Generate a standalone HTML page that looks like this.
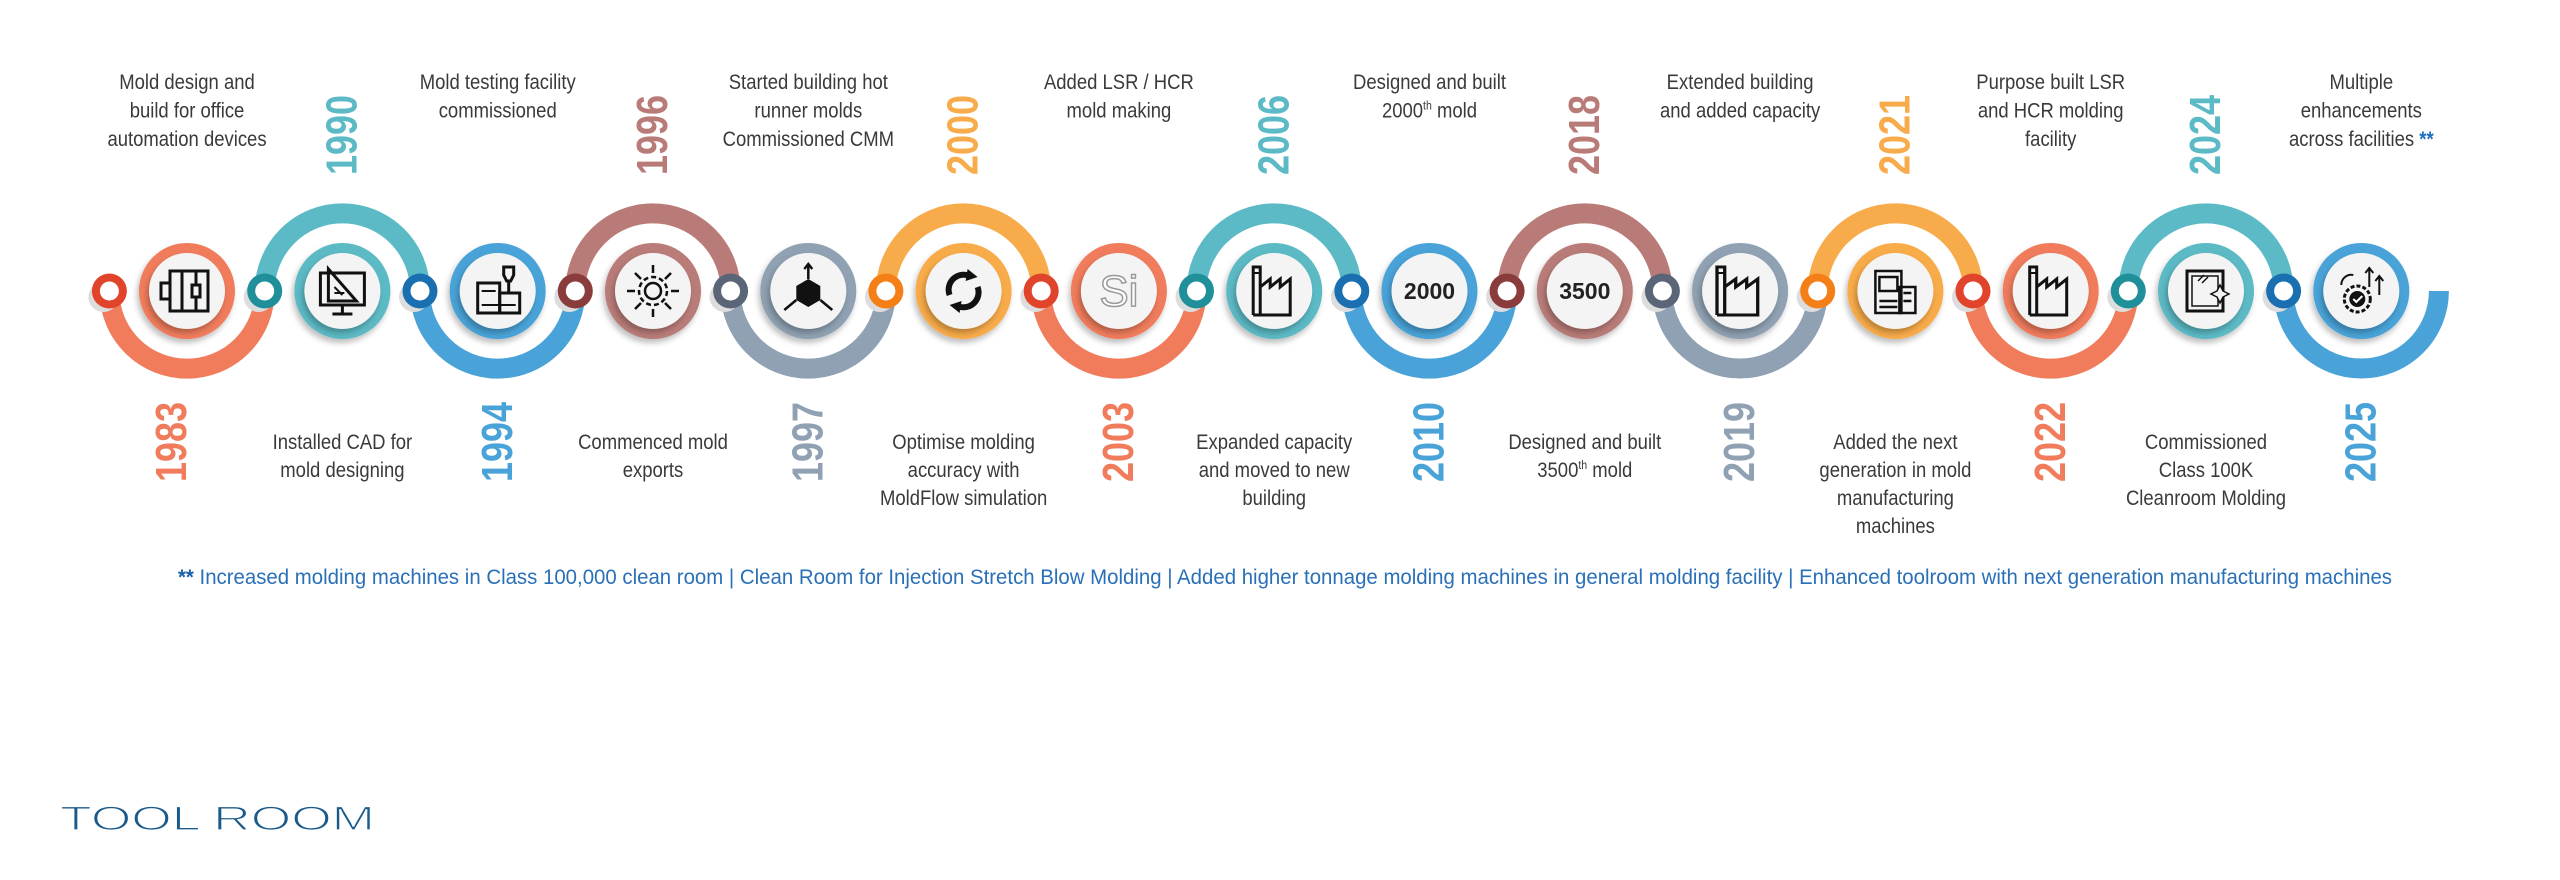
<!DOCTYPE html>
<html><head><meta charset="utf-8"><style>
html,body{margin:0;padding:0;background:#fff;}
svg{display:block;}
text{font-family:"Liberation Sans",Arial,sans-serif;}
.d{font-size:21px;fill:#3a3a3a;}
.y{font-size:36px;font-weight:bold;}
</style></head><body>
<svg width="2560" height="880" viewBox="0 0 2560 880" xmlns="http://www.w3.org/2000/svg">
<defs>
<filter id="sh" x="-30%" y="-30%" width="160%" height="160%"><feDropShadow dx="-2" dy="4" stdDeviation="3" flood-color="#000" flood-opacity="0.25"/></filter>
<g id="factory"><path d="M-21 24V-24h7v48M-14 24V-4l10-8v8l10-8v8l10-8v36H-21z" fill="none" stroke="#111" stroke-width="3" stroke-linejoin="miter"/><path d="M-21-18h7" stroke="#111" stroke-width="2"/></g>
</defs>
<rect width="2560" height="880" fill="#fff"/>

<g fill="none" stroke-width="20" stroke-linecap="butt">
<path d="M109.4 291A77.65 77.65 0 0 0 264.7 291" stroke="#f07c5c"/>
<path d="M264.7 291A77.65 77.65 0 0 1 420 291" stroke="#5bbac5"/>
<path d="M420 291A77.65 77.65 0 0 0 575.3 291" stroke="#4aa3d8"/>
<path d="M575.3 291A77.65 77.65 0 0 1 730.6 291" stroke="#b97b78"/>
<path d="M730.6 291A77.65 77.65 0 0 0 885.9 291" stroke="#8fa1b2"/>
<path d="M885.9 291A77.65 77.65 0 0 1 1041.2 291" stroke="#f8ab4a"/>
<path d="M1041.2 291A77.65 77.65 0 0 0 1196.5 291" stroke="#f07c5c"/>
<path d="M1196.5 291A77.65 77.65 0 0 1 1351.8 291" stroke="#5bbac5"/>
<path d="M1351.8 291A77.65 77.65 0 0 0 1507.1 291" stroke="#4aa3d8"/>
<path d="M1507.1 291A77.65 77.65 0 0 1 1662.4 291" stroke="#b97b78"/>
<path d="M1662.4 291A77.65 77.65 0 0 0 1817.7 291" stroke="#8fa1b2"/>
<path d="M1817.7 291A77.65 77.65 0 0 1 1973 291" stroke="#f8ab4a"/>
<path d="M1973 291A77.65 77.65 0 0 0 2128.3 291" stroke="#f07c5c"/>
<path d="M2128.3 291A77.65 77.65 0 0 1 2283.6 291" stroke="#5bbac5"/>
<path d="M2283.6 291A77.65 77.65 0 0 0 2438.9 291" stroke="#4aa3d8"/>
</g>

<g>
<g transform="translate(109.4,291)"><circle cx="-6" cy="6" r="15" fill="#ddd"/><circle r="17.5" fill="#e0452b"/><circle r="9.5" fill="#fff"/></g>
<g transform="translate(264.7,291)"><circle cx="-6" cy="6" r="15" fill="#ddd"/><circle r="17.5" fill="#1f8f99"/><circle r="9.5" fill="#fff"/></g>
<g transform="translate(420,291)"><circle cx="-6" cy="6" r="15" fill="#ddd"/><circle r="17.5" fill="#1a6fb0"/><circle r="9.5" fill="#fff"/></g>
<g transform="translate(575.3,291)"><circle cx="-6" cy="6" r="15" fill="#ddd"/><circle r="17.5" fill="#8a3b3b"/><circle r="9.5" fill="#fff"/></g>
<g transform="translate(730.6,291)"><circle cx="-6" cy="6" r="15" fill="#ddd"/><circle r="17.5" fill="#5a6677"/><circle r="9.5" fill="#fff"/></g>
<g transform="translate(885.9,291)"><circle cx="-6" cy="6" r="15" fill="#ddd"/><circle r="17.5" fill="#f57f17"/><circle r="9.5" fill="#fff"/></g>
<g transform="translate(1041.2,291)"><circle cx="-6" cy="6" r="15" fill="#ddd"/><circle r="17.5" fill="#e0452b"/><circle r="9.5" fill="#fff"/></g>
<g transform="translate(1196.5,291)"><circle cx="-6" cy="6" r="15" fill="#ddd"/><circle r="17.5" fill="#1f8f99"/><circle r="9.5" fill="#fff"/></g>
<g transform="translate(1351.8,291)"><circle cx="-6" cy="6" r="15" fill="#ddd"/><circle r="17.5" fill="#1a6fb0"/><circle r="9.5" fill="#fff"/></g>
<g transform="translate(1507.1,291)"><circle cx="-6" cy="6" r="15" fill="#ddd"/><circle r="17.5" fill="#8a3b3b"/><circle r="9.5" fill="#fff"/></g>
<g transform="translate(1662.4,291)"><circle cx="-6" cy="6" r="15" fill="#ddd"/><circle r="17.5" fill="#5a6677"/><circle r="9.5" fill="#fff"/></g>
<g transform="translate(1817.7,291)"><circle cx="-6" cy="6" r="15" fill="#ddd"/><circle r="17.5" fill="#f57f17"/><circle r="9.5" fill="#fff"/></g>
<g transform="translate(1973,291)"><circle cx="-6" cy="6" r="15" fill="#ddd"/><circle r="17.5" fill="#e0452b"/><circle r="9.5" fill="#fff"/></g>
<g transform="translate(2128.3,291)"><circle cx="-6" cy="6" r="15" fill="#ddd"/><circle r="17.5" fill="#1f8f99"/><circle r="9.5" fill="#fff"/></g>
<g transform="translate(2283.6,291)"><circle cx="-6" cy="6" r="15" fill="#ddd"/><circle r="17.5" fill="#1a6fb0"/><circle r="9.5" fill="#fff"/></g>
</g>

<g>
<g transform="translate(187,291)"><circle r="48" fill="#f07c5c" filter="url(#sh)"/><circle r="38" fill="#f4f4f4" filter="url(#sh)"/>
<g fill="none" stroke="#111" stroke-width="3"><rect x="-17" y="-20" width="38" height="40"/><rect x="-26" y="-8" width="9" height="16"/><path d="M-5-20v40M9-20v14M9 6v14M5-6h8v12h-8z"/></g></g>
<g transform="translate(342.4,291)"><circle r="48" fill="#5bbac5" filter="url(#sh)"/><circle r="38" fill="#f4f4f4" filter="url(#sh)"/>
<g fill="none" stroke="#111" stroke-width="3"><rect x="-22" y="-18" width="44" height="32"/><path d="M0 14v8M-10 23h20M-14-22L14 10H-14z"/><path d="M-8 2h10M-8-4l8 8" stroke-width="2"/></g></g>
<g transform="translate(497.7,291)"><circle r="48" fill="#4aa3d8" filter="url(#sh)"/><circle r="38" fill="#f4f4f4" filter="url(#sh)"/>
<g fill="none" stroke="#111" stroke-width="3"><rect x="-20" y="-8" width="22" height="30"/><rect x="2" y="2" width="20" height="20"/><path d="M6-24h10v8l-3 6h-4l-3-6z M11-10v12"/><path d="M-16 0h14M-16 14h34" stroke-width="2"/></g></g>
<g transform="translate(653,291)"><circle r="48" fill="#b97b78" filter="url(#sh)"/><circle r="38" fill="#f4f4f4" filter="url(#sh)"/>
<g fill="none" stroke="#111" stroke-width="2.5"><circle r="8"/><circle r="14" stroke-dasharray="5 3"/><path d="M0-26v8M0 18v8M-26 0h8M18 0h8M-18-18l6 6M12 12l6 6M18-18l-6 6M-12 12l-6 6"/></g></g>
<g transform="translate(808.3,291)"><circle r="48" fill="#8fa1b2" filter="url(#sh)"/><circle r="38" fill="#f4f4f4" filter="url(#sh)"/>
<path d="M0-12l12 7v14l-12 7-12-7v-14z" fill="#111"/><g stroke="#111" stroke-width="2.5" fill="none"><path d="M0-12v-14M-4-22l4-5 4 5M-12 9l-12 10M12 9l12 10"/></g></g>
<g transform="translate(963.6,291)"><circle r="48" fill="#f8ab4a" filter="url(#sh)"/><circle r="38" fill="#f4f4f4" filter="url(#sh)"/>
<g fill="none" stroke="#111" stroke-width="6"><path d="M-14 4A15 15 0 0 1 8-14"/><path d="M14-4A15 15 0 0 1-8 14"/></g><path d="M4-22l10 8-12 4z M-4 22l-10-8 12-4z" fill="#111"/></g>
<g transform="translate(1118.9,291)"><circle r="48" fill="#f07c5c" filter="url(#sh)"/><circle r="38" fill="#f4f4f4" filter="url(#sh)"/>
<text x="0" y="15" text-anchor="middle" font-size="44" fill="#fff" stroke="#999" stroke-width="1.5">Si</text></g>
<g transform="translate(1274.2,291)"><circle r="48" fill="#5bbac5" filter="url(#sh)"/><circle r="38" fill="#f4f4f4" filter="url(#sh)"/><use href="#factory"/></g>
<g transform="translate(1429.5,291)"><circle r="48" fill="#4aa3d8" filter="url(#sh)"/><circle r="38" fill="#f4f4f4" filter="url(#sh)"/>
<text x="0" y="8" text-anchor="middle" font-size="23" font-weight="bold" fill="#222">2000</text></g>
<g transform="translate(1584.8,291)"><circle r="48" fill="#b97b78" filter="url(#sh)"/><circle r="38" fill="#f4f4f4" filter="url(#sh)"/>
<text x="0" y="8" text-anchor="middle" font-size="23" font-weight="bold" fill="#222">3500</text></g>
<g transform="translate(1740.1,291)"><circle r="48" fill="#8fa1b2" filter="url(#sh)"/><circle r="38" fill="#f4f4f4" filter="url(#sh)"/><use href="#factory" transform="scale(1.1,1)"/></g>
<g transform="translate(1895.4,291)"><circle r="48" fill="#f8ab4a" filter="url(#sh)"/><circle r="38" fill="#f4f4f4" filter="url(#sh)"/>
<g fill="none" stroke="#111" stroke-width="2.5"><rect x="-20" y="-20" width="26" height="42"/><rect x="4" y="-4" width="16" height="26"/><path d="M-16-14h18v14h-18zM-16 10h18M-16 16h18M8 2h8M8 10h8"/></g></g>
<g transform="translate(2050.7,291)"><circle r="48" fill="#f07c5c" filter="url(#sh)"/><circle r="38" fill="#f4f4f4" filter="url(#sh)"/><use href="#factory"/></g>
<g transform="translate(2206,291)"><circle r="48" fill="#5bbac5" filter="url(#sh)"/><circle r="38" fill="#f4f4f4" filter="url(#sh)"/>
<g fill="none" stroke="#111" stroke-width="3"><rect x="-19" y="-20" width="36" height="40"/><rect x="-14" y="-15" width="26" height="30" stroke-width="1.5"/><path d="M-8-10l6-6M-4-8l6-6" stroke-width="1.5"/></g><path d="M14-6l3 6 6 3-6 3-3 6-3-6-6-3 6-3z" fill="#f4f4f4" stroke="#111" stroke-width="1.5"/></g>
<g transform="translate(2361.3,291)"><circle r="48" fill="#4aa3d8" filter="url(#sh)"/><circle r="38" fill="#f4f4f4" filter="url(#sh)"/>
<circle cx="-4" cy="8" r="13" fill="none" stroke="#111" stroke-width="3" stroke-dasharray="4 2"/><circle cx="-4" cy="8" r="8" fill="#111"/><path d="M-8 8l3 3 6-6" stroke="#fff" stroke-width="2" fill="none"/>
<g fill="none" stroke="#111" stroke-width="2"><path d="M8-4v-18M4-18l4-5 4 5M18 4v-18M14-10l4-5 4 5M-20-6a10 10 0 0 1 12-10"/></g></g>
</g>

<g class="y">
<text class="y" fill="#f07c5c" text-anchor="middle" dominant-baseline="central" transform="translate(172,442) rotate(-90) scale(1,1.2)">1983</text>
<text class="y" fill="#5bbac5" text-anchor="middle" dominant-baseline="central" transform="translate(342.4,135) rotate(-90) scale(1,1.2)">1990</text>
<text class="y" fill="#4aa3d8" text-anchor="middle" dominant-baseline="central" transform="translate(497.7,442) rotate(-90) scale(1,1.2)">1994</text>
<text class="y" fill="#b97b78" text-anchor="middle" dominant-baseline="central" transform="translate(653,135) rotate(-90) scale(1,1.2)">1996</text>
<text class="y" fill="#8fa1b2" text-anchor="middle" dominant-baseline="central" transform="translate(808.3,442) rotate(-90) scale(1,1.2)">1997</text>
<text class="y" fill="#f8ab4a" text-anchor="middle" dominant-baseline="central" transform="translate(963.6,135) rotate(-90) scale(1,1.2)">2000</text>
<text class="y" fill="#f07c5c" text-anchor="middle" dominant-baseline="central" transform="translate(1118.9,442) rotate(-90) scale(1,1.2)">2003</text>
<text class="y" fill="#5bbac5" text-anchor="middle" dominant-baseline="central" transform="translate(1274.2,135) rotate(-90) scale(1,1.2)">2006</text>
<text class="y" fill="#4aa3d8" text-anchor="middle" dominant-baseline="central" transform="translate(1429.5,442) rotate(-90) scale(1,1.2)">2010</text>
<text class="y" fill="#b97b78" text-anchor="middle" dominant-baseline="central" transform="translate(1584.8,135) rotate(-90) scale(1,1.2)">2018</text>
<text class="y" fill="#8fa1b2" text-anchor="middle" dominant-baseline="central" transform="translate(1740.1,442) rotate(-90) scale(1,1.2)">2019</text>
<text class="y" fill="#f8ab4a" text-anchor="middle" dominant-baseline="central" transform="translate(1895.4,135) rotate(-90) scale(1,1.2)">2021</text>
<text class="y" fill="#f07c5c" text-anchor="middle" dominant-baseline="central" transform="translate(2050.7,442) rotate(-90) scale(1,1.2)">2022</text>
<text class="y" fill="#5bbac5" text-anchor="middle" dominant-baseline="central" transform="translate(2206,135) rotate(-90) scale(1,1.2)">2024</text>
<text class="y" fill="#4aa3d8" text-anchor="middle" dominant-baseline="central" transform="translate(2361.3,442) rotate(-90) scale(1,1.2)">2025</text>
</g>

<g class="d" text-anchor="middle">
<g transform="translate(187,0) scale(0.88,1)"><text class="d" y="89">Mold design and</text><text class="d" y="117.5">build for office</text><text class="d" y="146">automation devices</text></g>
<g transform="translate(497.7,0) scale(0.88,1)"><text class="d" y="89">Mold testing facility</text><text class="d" y="117.5">commissioned</text></g>
<g transform="translate(808.3,0) scale(0.88,1)"><text class="d" y="89">Started building hot</text><text class="d" y="117.5">runner molds</text><text class="d" y="146">Commissioned CMM</text></g>
<g transform="translate(1118.9,0) scale(0.88,1)"><text class="d" y="89">Added LSR / HCR</text><text class="d" y="117.5">mold making</text></g>
<g transform="translate(1429.5,0) scale(0.88,1)"><text class="d" y="89">Designed and built</text><text class="d" y="117.5">2000<tspan font-size="12" dy="-8">th</tspan><tspan dy="8"> mold</tspan></text></g>
<g transform="translate(1740.1,0) scale(0.88,1)"><text class="d" y="89">Extended building</text><text class="d" y="117.5">and added capacity</text></g>
<g transform="translate(2050.7,0) scale(0.88,1)"><text class="d" y="89">Purpose built LSR</text><text class="d" y="117.5">and HCR molding</text><text class="d" y="146">facility</text></g>
<g transform="translate(2361.3,0) scale(0.88,1)"><text class="d" y="89">Multiple</text><text class="d" y="117.5">enhancements</text><text class="d" y="146">across facilities <tspan fill="#1f6fc0" font-weight="bold">**</tspan></text></g>
</g>

<g text-anchor="middle">
<g transform="translate(342.4,0) scale(0.88,1)"><text class="d" y="449">Installed CAD for</text><text class="d" y="477">mold designing</text></g>
<g transform="translate(653,0) scale(0.88,1)"><text class="d" y="449">Commenced mold</text><text class="d" y="477">exports</text></g>
<g transform="translate(963.6,0) scale(0.88,1)"><text class="d" y="449">Optimise molding</text><text class="d" y="477">accuracy with</text><text class="d" y="505">MoldFlow simulation</text></g>
<g transform="translate(1274.2,0) scale(0.88,1)"><text class="d" y="449">Expanded capacity</text><text class="d" y="477">and moved to new</text><text class="d" y="505">building</text></g>
<g transform="translate(1584.8,0) scale(0.88,1)"><text class="d" y="449">Designed and built</text><text class="d" y="477">3500<tspan font-size="12" dy="-8">th</tspan><tspan dy="8"> mold</tspan></text></g>
<g transform="translate(1895.4,0) scale(0.88,1)"><text class="d" y="449">Added the next</text><text class="d" y="477">generation in mold</text><text class="d" y="505">manufacturing</text><text class="d" y="533">machines</text></g>
<g transform="translate(2206,0) scale(0.88,1)"><text class="d" y="449">Commissioned</text><text class="d" y="477">Class 100K</text><text class="d" y="505">Cleanroom Molding</text></g>
</g>

<text x="178" y="584" font-size="21" fill="#2a70b8" textLength="2214" lengthAdjust="spacingAndGlyphs"><tspan font-weight="bold" fill="#1a5fa8">**</tspan> Increased molding machines in Class 100,000 clean room   |   Clean Room for Injection Stretch Blow Molding   |   Added higher tonnage molding machines in general molding facility   |   Enhanced toolroom  with next generation manufacturing machines</text>

<text x="60" y="830" font-size="34" fill="#1a5a8a" stroke="#fff" stroke-width="1.2" paint-order="normal" textLength="315" lengthAdjust="spacingAndGlyphs">TOOL ROOM</text>
</svg>
</body></html>
